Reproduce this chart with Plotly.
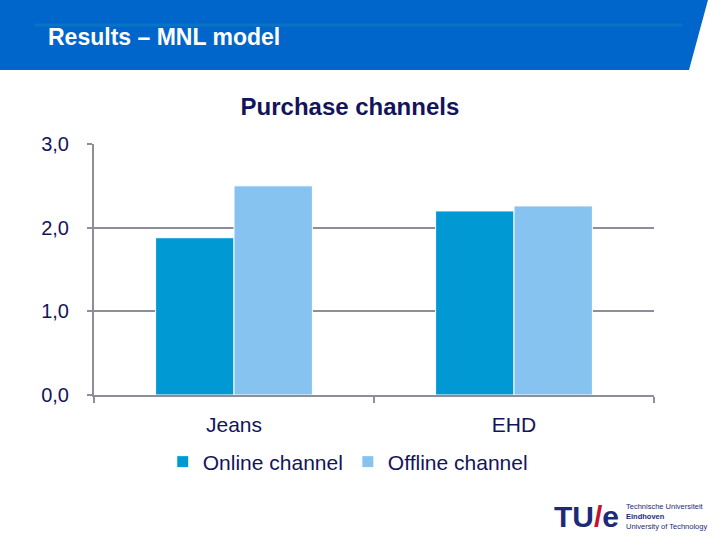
import plotly.graph_objects as go

categories = ['Jeans', 'EHD']
online = [1.88, 2.20]
offline = [2.50, 2.26]
y_ticks = [0, 1, 2, 3]
y_ticklabels = ['0,0', '1,0', '2,0', '3,0']

FONT = 'Liberation Sans, Arial, sans-serif'
NAVY = '#14145a'
GRID = '#8e8e9a'

fig = go.Figure()

fig.add_trace(go.Bar(x=categories, y=online, name='Online channel',
                     marker=dict(color='#0099d4', line=dict(color='white', width=1))))
fig.add_trace(go.Bar(x=categories, y=offline, name='Offline channel',
                     marker=dict(color='#86c3f0', line=dict(color='white', width=1))))

# slide header banner with slanted right edge
fig.add_shape(type='path', xref='paper', yref='paper',
              path='M -0.168 1.574 L 1.0964 1.574 L 1.0625 1.295 L -0.168 1.295 Z',
              fillcolor='#0066cc', line=dict(width=0), layer='below')
fig.add_shape(type='line', xref='paper', yref='paper',
              x0=-0.105, x1=1.05, y0=1.474, y1=1.474,
              line=dict(color='#0a74c4', width=3))

fig.add_annotation(text='<b>Results – MNL model</b>', xref='paper', yref='paper',
                   x=-0.0857, y=1.426, xanchor='left', yanchor='middle', showarrow=False,
                   font=dict(family=FONT, size=23, color='white'))

# TU/e logo
fig.add_annotation(text="<b>TU<span style='color:#c8102e'>/</span>e</b>",
                   xref='paper', yref='paper', x=0.818, y=-0.486,
                   xanchor='left', yanchor='middle', showarrow=False,
                   font=dict(family=FONT, size=30, color='#1c2a78'))
fig.add_annotation(text='Technische Universiteit<br><b>Eindhoven</b><br>University of Technology',
                   xref='paper', yref='paper', x=0.946, y=-0.486,
                   xanchor='left', yanchor='middle', showarrow=False, align='left',
                   font=dict(family=FONT, size=7.5, color='#1c2a78'))

fig.update_layout(
    width=720, height=540,
    margin=dict(l=94, r=66, t=144, b=145, autoexpand=False),
    paper_bgcolor='white', plot_bgcolor='white',
    barmode='group', bargap=0.44, bargroupgap=0,
    font=dict(family=FONT, color=NAVY),
    title=dict(text='<b>Purchase channels</b>', x=0.486, xref='container',
               y=1 - 107 / 540, yref='container', xanchor='center', yanchor='middle',
               font=dict(family=FONT, size=24, color=NAVY)),
    legend=dict(orientation='h', x=0.483, xref='container', xanchor='center',
                y=1 - 462 / 540, yref='container', yanchor='middle',
                font=dict(family=FONT, size=21, color=NAVY),
                itemwidth=30, traceorder='normal'),
    xaxis=dict(showline=True, linecolor=GRID, linewidth=2, automargin=False,
               ticks='outside', tickson='boundaries', ticklen=6, tickcolor=GRID, tickwidth=2,
               tickfont=dict(family=FONT, size=21, color=NAVY), ticklabelstandoff=10,
               showgrid=False),
    yaxis=dict(range=[0, 3], tickvals=y_ticks, ticktext=y_ticklabels, automargin=False,
               showline=True, linecolor=GRID, linewidth=2,
               ticks='outside', ticklen=5, tickcolor=GRID, tickwidth=2,
               tickfont=dict(family=FONT, size=20, color=NAVY), ticklabelstandoff=14,
               showgrid=True, gridcolor=GRID, gridwidth=2, zeroline=False),
)

# page body has a default 8px margin; drop it so the figure sits at the window corner
fig.write_html('out.html', config={'displayModeBar': False},
               post_script="document.body.style.margin='0px';")
